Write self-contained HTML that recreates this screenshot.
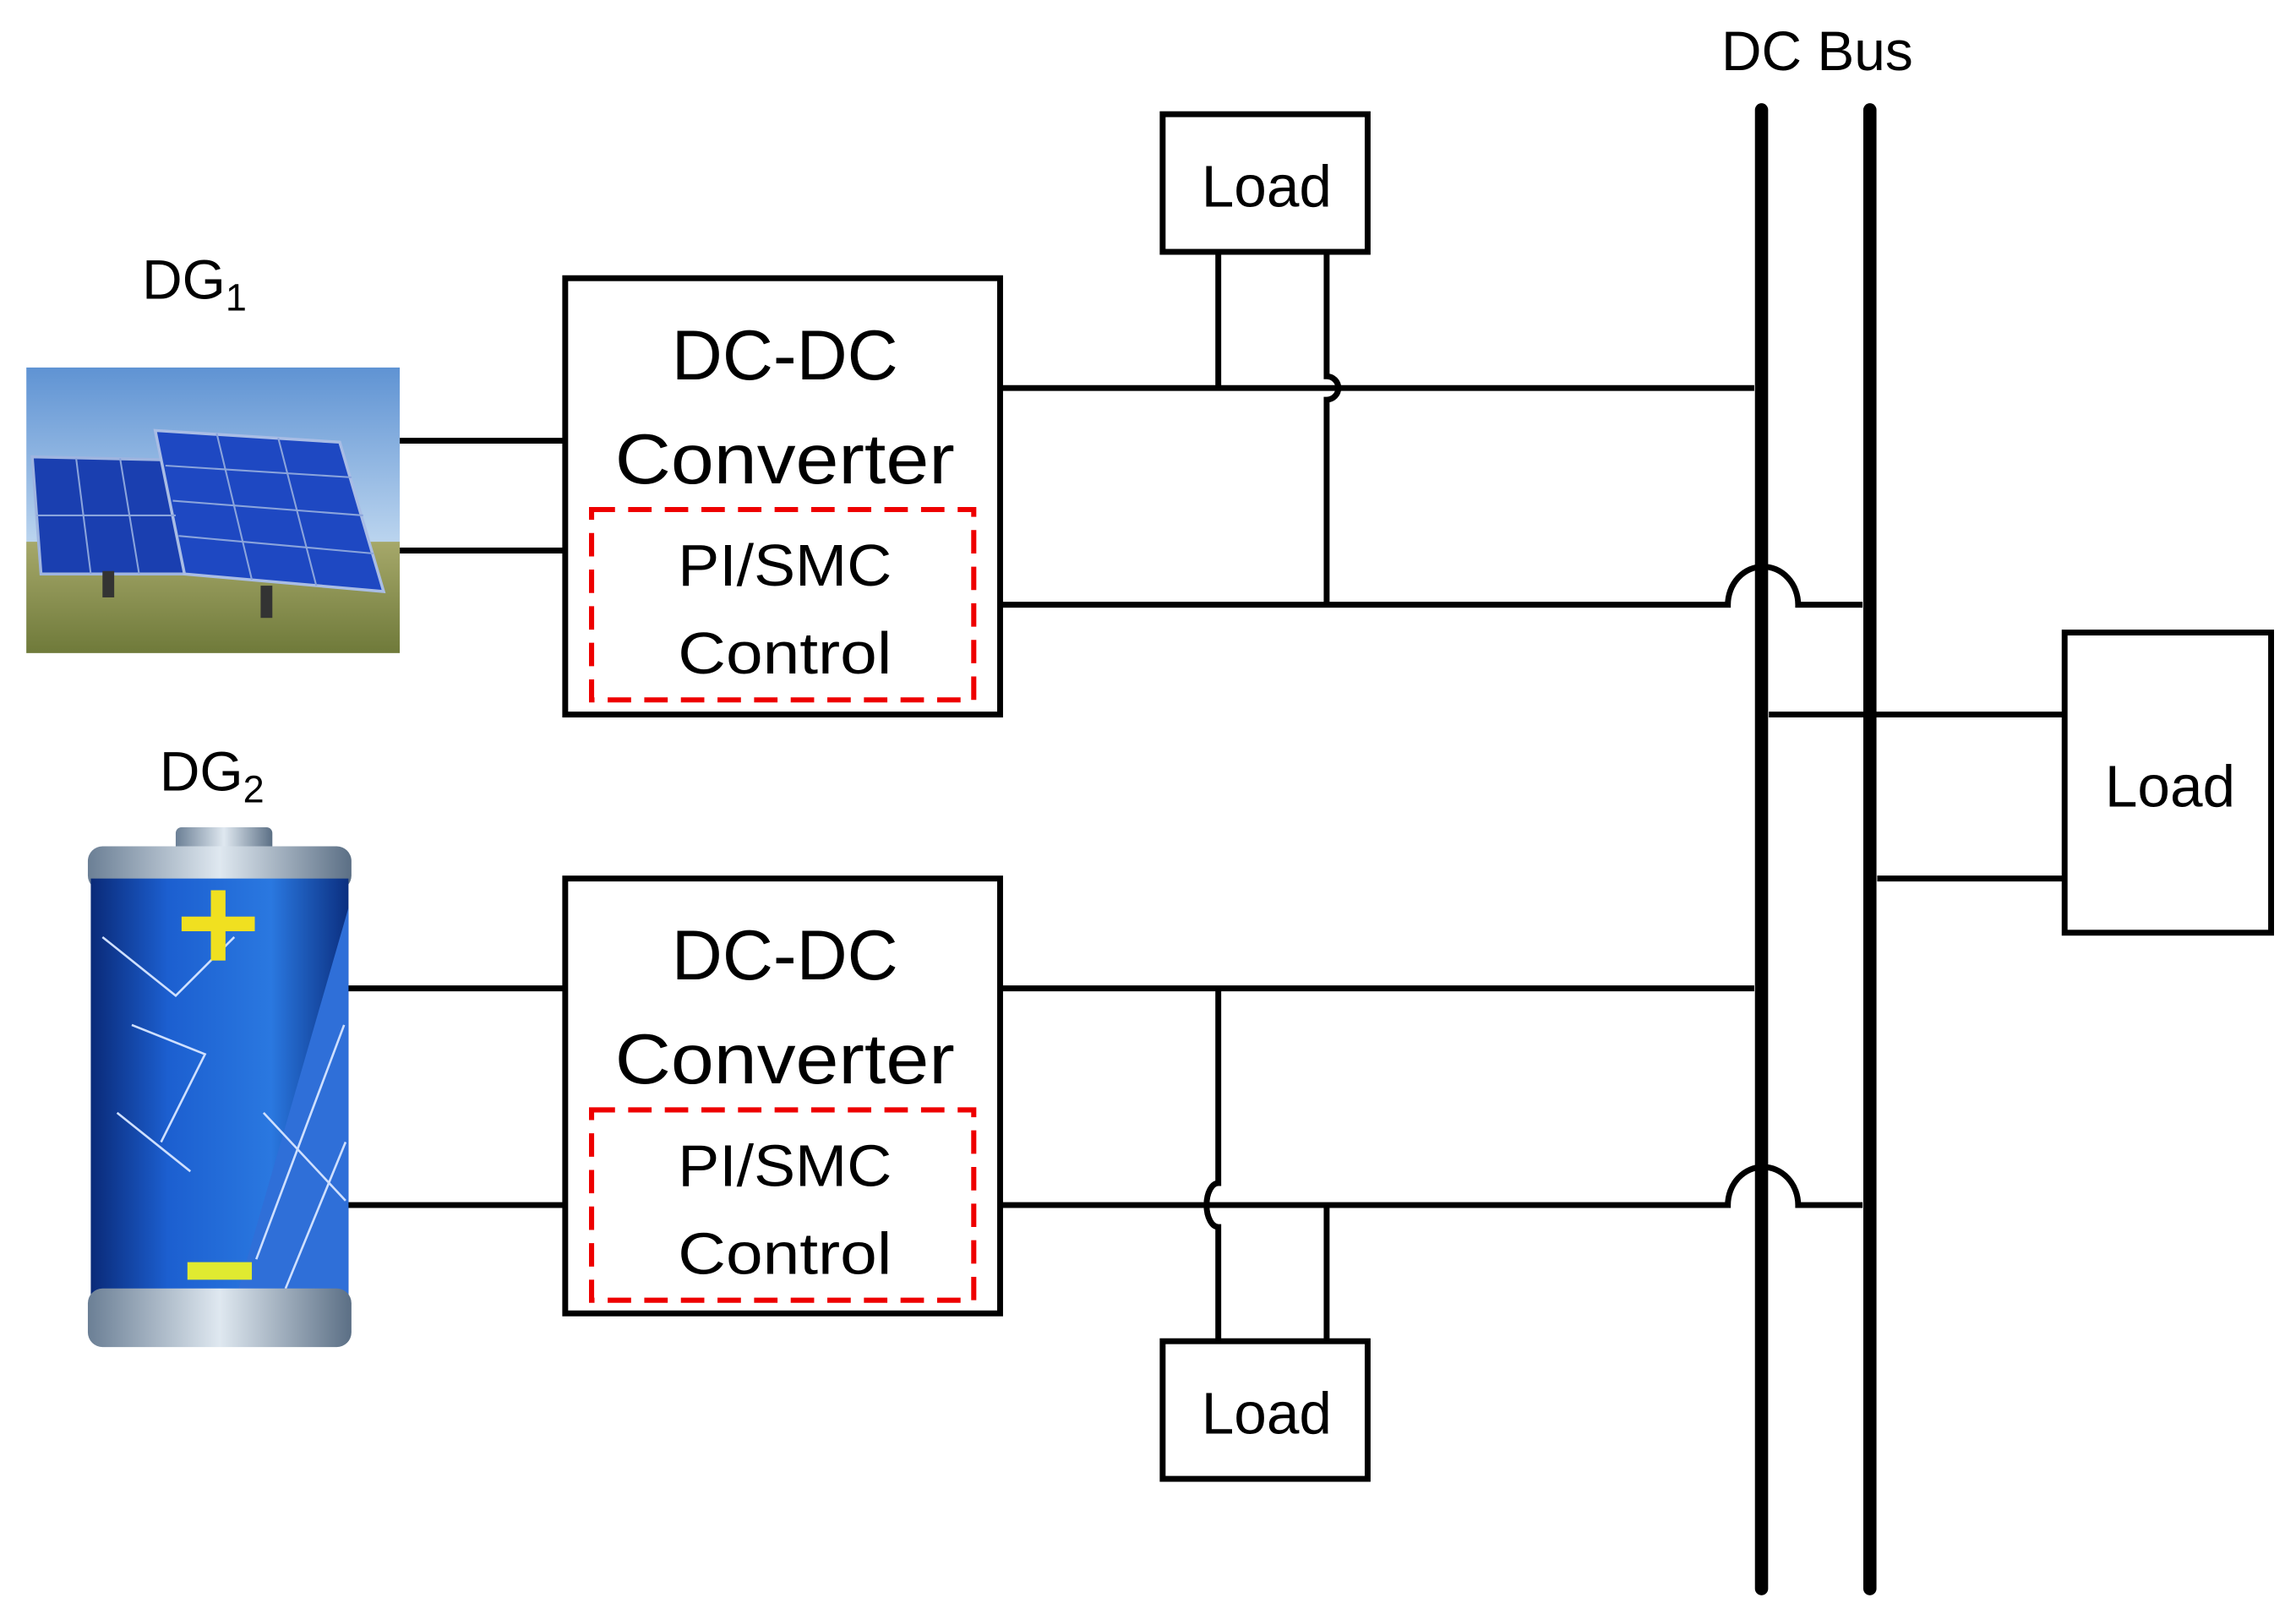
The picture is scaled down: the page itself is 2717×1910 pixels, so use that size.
<!DOCTYPE html>
<html><head><style>html,body{margin:0;padding:0;background:#fff}svg{display:block}</style></head>
<body>
<svg width="2717" height="1910" viewBox="0 0 1568 1102.3" preserveAspectRatio="none" xmlns="http://www.w3.org/2000/svg" font-family="Liberation Sans, sans-serif">
<defs>
<linearGradient id="sky" x1="0" y1="0" x2="0" y2="1"><stop offset="0" stop-color="#5f93d3"/><stop offset="0.6" stop-color="#b9d3ee"/><stop offset="1" stop-color="#c9d8c0"/></linearGradient>
<linearGradient id="grass" x1="0" y1="0" x2="0" y2="1"><stop offset="0" stop-color="#a6a86a"/><stop offset="1" stop-color="#6f7a3a"/></linearGradient>
<linearGradient id="bat" x1="0" y1="0" x2="1" y2="0"><stop offset="0" stop-color="#0a2a78"/><stop offset="0.3" stop-color="#1c5fd0"/><stop offset="0.7" stop-color="#2a78e0"/><stop offset="1" stop-color="#0b2f80"/></linearGradient>
<linearGradient id="cap" x1="0" y1="0" x2="1" y2="0"><stop offset="0" stop-color="#6b7f95"/><stop offset="0.5" stop-color="#dfe8f0"/><stop offset="1" stop-color="#5b6f85"/></linearGradient>
</defs>
<g fill="none" stroke="#000" stroke-width="4">
<line x1="1203" y1="75" x2="1203" y2="1085" stroke-width="9" stroke-linecap="round"/>
<line x1="1277" y1="75" x2="1277" y2="1085" stroke-width="9" stroke-linecap="round"/>
<rect x="794" y="78" width="140" height="94"/>
<rect x="386" y="190" width="297" height="298"/>
<rect x="386" y="600" width="297" height="297"/>
<rect x="1410" y="432" width="141" height="205"/>
<rect x="794" y="916" width="140" height="94"/>
<rect x="404" y="348" width="261" height="130" stroke="#e00" stroke-width="3.5" stroke-dasharray="16,9"/>
<rect x="404" y="758" width="261" height="130" stroke="#e00" stroke-width="3.5" stroke-dasharray="16,9"/>
<line x1="273" y1="301" x2="386" y2="301"/>
<line x1="273" y1="376" x2="386" y2="376"/>
<line x1="237" y1="675" x2="386" y2="675"/>
<line x1="237" y1="823" x2="386" y2="823"/>
<line x1="683" y1="265" x2="1198" y2="265"/>
<path d="M683,413 H1180 A24,26 0 0 1 1228,413 H1272"/>
<line x1="832" y1="172" x2="832" y2="265"/>
<path d="M906,172 V257 A8,8 0 0 1 906,273 V413"/>
<line x1="1208" y1="488" x2="1410" y2="488"/>
<line x1="1282" y1="600" x2="1410" y2="600"/>
<line x1="683" y1="675" x2="1198" y2="675"/>
<path d="M683,823 H1180 A24,26 0 0 1 1228,823 H1272"/>
<path d="M832,675 V808 A8,15 0 0 0 832,838 V916"/>
<line x1="906" y1="823" x2="906" y2="916"/>
</g>
<rect x="18" y="251" width="255" height="195" fill="url(#sky)"/>
<rect x="18" y="370" width="255" height="76" fill="url(#grass)"/>
<polygon points="22,312 112,314 128,392 28,392" fill="#1a3fb0" stroke="#9fb5e0" stroke-width="2"/>
<polygon points="106,294 232,302 262,404 126,392" fill="#1e48c2" stroke="#a9bde5" stroke-width="2"/>
<g stroke="#8aa4dc" stroke-width="1.2"><line x1="113" y1="318" x2="240" y2="326"/><line x1="118" y1="342" x2="248" y2="352"/><line x1="122" y1="366" x2="255" y2="378"/><line x1="148" y1="296" x2="172" y2="396"/><line x1="190" y1="299" x2="216" y2="400"/><line x1="52" y1="313" x2="62" y2="392"/><line x1="82" y1="313" x2="95" y2="392"/><line x1="25" y1="352" x2="120" y2="352"/></g>
<rect x="178" y="400" width="8" height="22" fill="#333"/><rect x="70" y="390" width="8" height="18" fill="#333"/>
<rect x="120" y="565" width="66" height="18" rx="4" fill="url(#cap)"/>
<rect x="60" y="578" width="180" height="30" rx="10" fill="url(#cap)"/>
<rect x="62" y="600" width="176" height="290" fill="url(#bat)"/>
<polygon points="160,890 238,620 238,890" fill="#2f6fd8"/>
<g stroke="#cfe0ff" stroke-width="1.5" fill="none"><path d="M70,640 L120,680 L160,640 M90,700 L140,720 L110,780 M80,760 L130,800 M175,860 L235,700 M195,880 L236,780 M180,760 L236,820"/></g>
<rect x="60" y="880" width="180" height="40" rx="10" fill="url(#cap)"/>
<rect x="124" y="626" width="50" height="10" fill="#f0e020"/><rect x="144" y="608" width="10" height="48" fill="#f0e020"/>
<rect x="128" y="862" width="44" height="12" fill="#e0ea30"/>
<g fill="#000" text-anchor="middle">
<text x="1241" y="48" font-size="38">DC Bus</text>
<text x="865" y="141" font-size="40">Load</text>
<text x="865" y="979" font-size="40">Load</text>
<text x="1482" y="551" font-size="40">Load</text>
<text x="536" y="259" font-size="48">DC-DC</text>
<text x="536" y="330" font-size="48" textLength="232" lengthAdjust="spacingAndGlyphs">Converter</text>
<text x="536" y="400" font-size="40" textLength="146" lengthAdjust="spacingAndGlyphs">PI/SMC</text>
<text x="536" y="460" font-size="40" textLength="146" lengthAdjust="spacingAndGlyphs">Control</text>
<text x="536" y="669" font-size="48">DC-DC</text>
<text x="536" y="740" font-size="48" textLength="232" lengthAdjust="spacingAndGlyphs">Converter</text>
<text x="536" y="810" font-size="40" textLength="146" lengthAdjust="spacingAndGlyphs">PI/SMC</text>
<text x="536" y="870" font-size="40" textLength="146" lengthAdjust="spacingAndGlyphs">Control</text>
</g>
<text x="97" y="204" font-size="38">DG<tspan font-size="26" dy="8">1</tspan></text>
<text x="109" y="540" font-size="38">DG<tspan font-size="26" dy="8">2</tspan></text>
</svg>
</body></html>
